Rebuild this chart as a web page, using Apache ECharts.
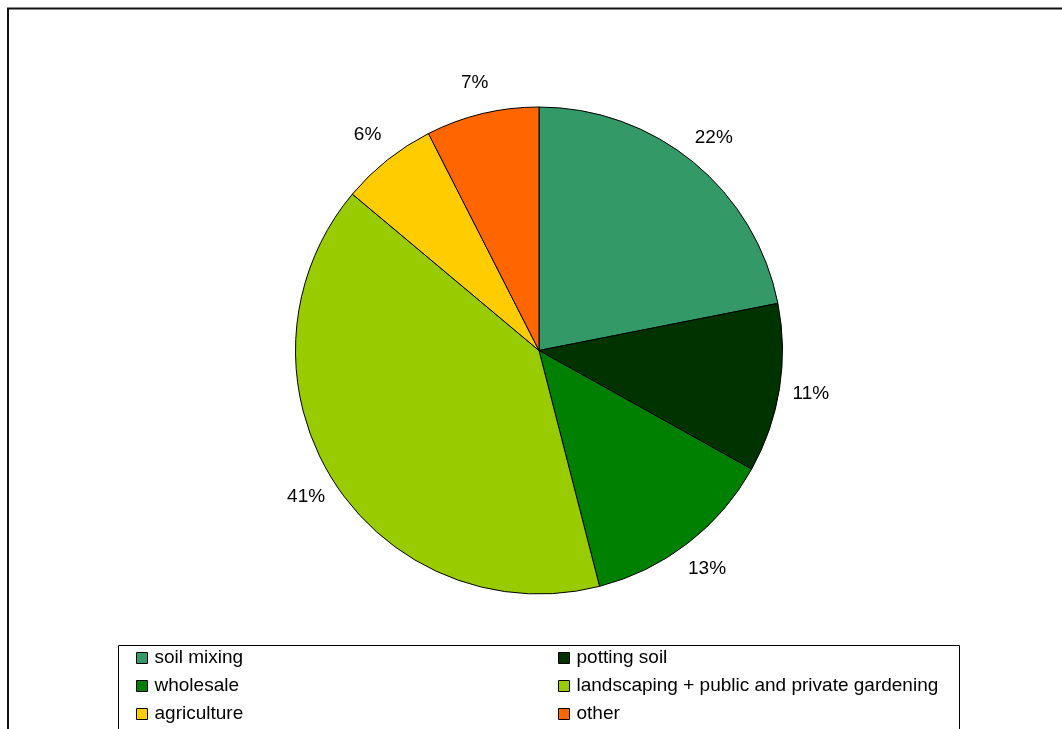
<!DOCTYPE html>
<html>
<head>
<meta charset="utf-8">
<script src="https://cdn.jsdelivr.net/npm/echarts@6/dist/echarts.min.js"></script>
<style>
html,body{margin:0;padding:0;background:#fff;}
#chart{width:1062px;height:729px;}
</style>
</head>
<body>
<div id="chart"></div>
<script>
const categories = ['soil mixing', 'potting soil', 'wholesale', 'landscaping + public and private gardening', 'agriculture', 'other'];
const values = [21.9, 11.2, 12.9, 40.1, 6.4, 7.5];
const pctLabels = ['22%', '11%', '13%', '41%', '6%', '7%'];
const colors = ['#339966', '#003300', '#008000', '#99CC00', '#FFCC00', '#FF6600'];
const legendLeft = ['soil mixing', 'wholesale', 'agriculture'];
const legendRight = ['potting soil', 'landscaping + public and private gardening', 'other'];

const FONT = '"Liberation Sans", Arial, sans-serif';
const chart = echarts.init(document.getElementById('chart'), null, {renderer: 'canvas'});

const legendCommon = {
  orient: 'vertical',
  padding: 0,
  itemWidth: 11,
  itemHeight: 11,
  itemGap: 8,
  icon: 'rect',
  selectedMode: false,
  itemStyle: {borderColor: '#000', borderWidth: 1},
  textStyle: {fontFamily: FONT, fontSize: 19, color: '#000', lineHeight: 20, padding: [0, 0, 0, 2]}
};

chart.setOption({
  backgroundColor: '#fff',
  animation: false,
  color: colors,
  graphic: [
    {type: 'rect', silent: true, shape: {x: 8, y: 8.5, width: 1070, height: 740}, style: {fill: 'none', stroke: '#111', lineWidth: 2}},
    {type: 'rect', silent: true, shape: {x: 118.5, y: 645.5, width: 841, height: 120}, style: {fill: 'none', stroke: '#000', lineWidth: 1}}
  ],
  legend: [
    Object.assign({left: 136, top: 648, data: legendLeft}, legendCommon),
    Object.assign({left: 558, top: 648, data: legendRight}, legendCommon)
  ],
  series: [
    {
      type: 'pie',
      center: [539, 350.5],
      radius: [0, 243.5],
      startAngle: 90,
      clockwise: true,
      avoidLabelOverlap: false,
      label: {show: false},
      labelLine: {show: false},
      emphasis: {disabled: true},
      itemStyle: {borderColor: '#000', borderWidth: 1},
      data: categories.map((c, i) => ({name: c, value: values[i]}))
    },
    {
      type: 'pie',
      silent: true,
      center: [539, 350.5],
      radius: [243.5, 301],
      startAngle: 90,
      clockwise: true,
      avoidLabelOverlap: false,
      emphasis: {disabled: true},
      itemStyle: {color: 'rgba(0,0,0,0)', borderWidth: 0},
      labelLine: {show: false},
      label: {
        show: true,
        position: 'inside',
        fontFamily: FONT,
        fontSize: 19,
        color: '#000',
        formatter: p => pctLabels[p.dataIndex]
      },
      data: categories.map((c, i) => ({name: 'lbl' + i, value: values[i]}))
    }
  ]
});
</script>
</body>
</html>
